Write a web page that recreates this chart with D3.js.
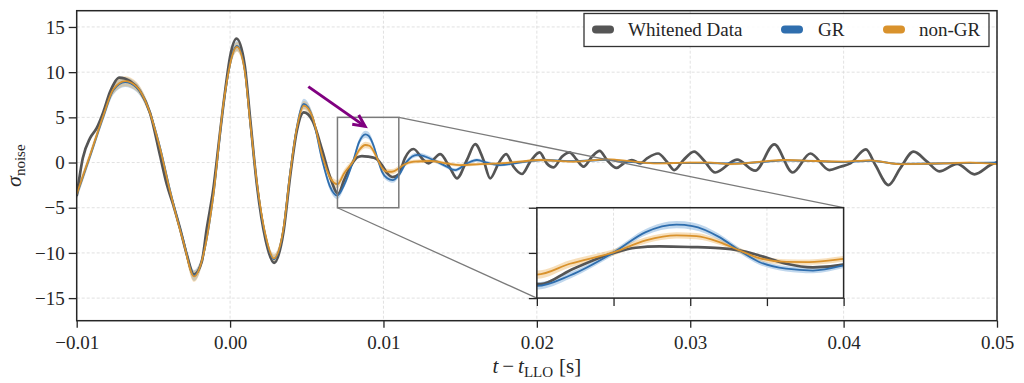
<!DOCTYPE html>
<html><head><meta charset="utf-8">
<script src="https://cdn.jsdelivr.net/npm/d3@7"></script>
<style>
html,body{margin:0;padding:0;background:#fff;}
svg{display:block;font-family:"Liberation Serif","Times New Roman",serif;}
</style></head><body>
<svg id="chart" width="1024" height="383"></svg>
<script>
// ---------------- data ----------------
const xTicks = [-0.01, 0, 0.01, 0.02, 0.03, 0.04, 0.05];
const xTickLabels = ["\u22120.01", "0.00", "0.01", "0.02", "0.03", "0.04", "0.05"];
const yTicks = [-15, -10, -5, 0, 5, 10, 15];
const yTickLabels = ["\u221215", "\u221210", "\u22125", "0", "5", "10", "15"];
const insetXTicks = [0.007, 0.008, 0.009, 0.010, 0.011];
const insetYTicks = [-5, 0, 5];
const seriesNames = ["Whitened Data", "GR", "non-GR"];
const zoomX = [0.007, 0.011];
const zoomY = [-5, 5];
const insetAtX = [0.02, 0.04];
const insetAtY = [-15, -5];
const arrowFrom = [0.0051, 8.4];
const arrowTo = [0.0088, 4.0];

// [t, value]
const whitened = [
[-0.01000,-3.7],[-0.00960,0.5],[-0.00913,2.7],[-0.00870,3.8],[-0.00826,5.6],[-0.00783,7.8],[-0.00722,9.4],[-0.00652,9.0],[-0.00587,7.9],[-0.00522,5.5],[-0.00457,0.8],[-0.00413,-2.4],[-0.00370,-4.7],[-0.00326,-7.3],[-0.00282,-10.2],[-0.00235,-12.4],[-0.00185,-11.0],[-0.00152,-7.3],[-0.00109,-2.9],[-0.00065,3.4],[-0.00030,8.2],[0.00000,11.7],[0.00042,13.7],[0.00095,10.8],[0.00130,5.0],[0.00175,-2.5],[0.00232,-8.6],[0.00287,-11.1],[0.00348,-7.7],[0.00391,-1.6],[0.00435,3.5],[0.00481,5.55],[0.00538,4.6],[0.00600,1.4],[0.00650,-1.5],[0.00705,-3.45],[0.00743,-1.94],[0.00801,0.02],[0.00829,0.57],[0.00860,0.72],[0.00901,0.65],[0.00938,0.53],[0.00964,0.28],[0.00990,-0.28],[0.01025,-1.2],[0.01060,-1.6],[0.01100,-1.3],[0.01140,0.5],[0.01196,1.5],[0.01261,0.28],[0.01294,-0.09],[0.01370,0.94],[0.01435,-0.64],[0.01479,-1.75],[0.01544,0.28],[0.01598,2.04],[0.01652,0.28],[0.01696,-1.75],[0.01750,-0.1],[0.01800,0.94],[0.01848,-0.46],[0.01903,-1.27],[0.01957,0.1],[0.02018,1.13],[0.02065,-0.1],[0.02109,-0.53],[0.02163,0.64],[0.02213,1.13],[0.02261,0.28],[0.02304,-0.45],[0.02359,0.64],[0.02409,1.3],[0.02457,0.28],[0.02520,-0.6],[0.02565,-0.1],[0.02620,0.28],[0.02674,-0.1],[0.02718,0.46],[0.02790,1.0],[0.02848,0.1],[0.02895,-0.83],[0.02956,0.28],[0.03025,1.2],[0.03087,0.28],[0.03163,-1.1],[0.03305,0.32],[0.03424,-0.9],[0.03548,2.0],[0.03668,-1.1],[0.03783,1.0],[0.03907,-0.83],[0.03978,-0.46],[0.04044,-0.1],[0.04145,1.46],[0.04207,-0.28],[0.04293,-2.49],[0.04369,-0.64],[0.04456,1.2],[0.04544,0.1],[0.04624,-0.97],[0.04740,-0.15],[0.04853,-1.3],[0.04957,-0.28],[0.05000,0.05]
];

// [t, median, band half-width]
const grModel = [
[-0.01000,-3.6,0.5],[-0.00913,0.7,0.45],[-0.00826,5.1,0.45],[-0.00761,8.0,0.5],[-0.00685,8.9,0.55],[-0.00609,8.3,0.5],[-0.00533,6.0,0.45],[-0.00457,1.7,0.4],[-0.00391,-3.1,0.4],[-0.00304,-8.7,0.5],[-0.00235,-12.5,0.6],[-0.00174,-10.2,0.5],[-0.00109,-3.7,0.4],[-0.00044,6.3,0.45],[0.00045,12.9,0.55],[0.00095,10.3,0.5],[0.00130,4.6,0.4],[0.00175,-2.3,0.4],[0.00232,-8.2,0.45],[0.00285,-10.7,0.5],[0.00348,-7.3,0.45],[0.00391,-1.2,0.4],[0.00435,3.9,0.45],[0.00481,6.5,0.55],[0.00538,5.0,0.45],[0.00600,0.3,0.35],[0.00650,-2.6,0.4],[0.00700,-3.65,0.4],[0.00743,-2.5,0.35],[0.00801,0.09,0.3],[0.00842,2.3,0.35],[0.00882,3.12,0.4],[0.00903,2.97,0.4],[0.00938,1.75,0.35],[0.00964,0.28,0.3],[0.00990,-1.0,0.3],[0.01025,-1.75,0.3],[0.01060,-1.95,0.3],[0.01100,-1.38,0.3],[0.01152,0.1,0.25],[0.01220,0.85,0.25],[0.01348,0.1,0.2],[0.01413,-0.46,0.2],[0.01467,-0.83,0.2],[0.01544,-0.1,0.2],[0.01609,0.28,0.18],[0.01674,-0.02,0.18],[0.01761,-0.28,0.15],[0.01848,-0.1,0.15],[0.01957,0.17,0.15],[0.02043,0.28,0.15],[0.02239,0.15,0.12],[0.02457,0.3,0.12],[0.02631,0.05,0.12],[0.02783,-0.05,0.12],[0.03000,-0.05,0.12],[0.03261,-0.1,0.12],[0.03500,0.1,0.12],[0.03609,0.25,0.12],[0.03826,0.15,0.12],[0.04000,0.05,0.12],[0.04174,0.2,0.12],[0.04370,-0.15,0.12],[0.04652,-0.1,0.12],[0.04826,-0.05,0.12],[0.05000,0.0,0.12]
];

const nonGRModel = [
[-0.01000,-3.5,0.55],[-0.00913,0.8,0.5],[-0.00826,5.2,0.5],[-0.00761,8.1,0.5],[-0.00685,9.0,0.55],[-0.00609,8.4,0.5],[-0.00533,6.0,0.45],[-0.00457,1.6,0.4],[-0.00391,-3.2,0.4],[-0.00304,-8.8,0.5],[-0.00235,-12.6,0.6],[-0.00174,-10.2,0.5],[-0.00109,-3.6,0.4],[-0.00044,6.4,0.45],[0.00045,12.8,0.55],[0.00095,10.2,0.5],[0.00130,4.6,0.4],[0.00175,-2.2,0.4],[0.00232,-8.1,0.45],[0.00285,-10.6,0.5],[0.00348,-7.3,0.45],[0.00391,-1.3,0.4],[0.00435,3.8,0.45],[0.00481,6.3,0.5],[0.00538,5.0,0.45],[0.00600,0.8,0.4],[0.00650,-1.6,0.45],[0.00700,-2.4,0.45],[0.00743,-1.2,0.4],[0.00801,0.09,0.35],[0.00842,1.38,0.35],[0.00882,1.94,0.35],[0.00908,1.86,0.35],[0.00938,1.2,0.3],[0.00964,0.28,0.3],[0.00990,-0.57,0.3],[0.01025,-1.0,0.3],[0.01055,-1.02,0.3],[0.01100,-0.65,0.3],[0.01130,-0.28,0.25],[0.01196,0.1,0.22],[0.01305,0.17,0.2],[0.01413,-0.1,0.2],[0.01500,-0.28,0.18],[0.01630,-0.17,0.15],[0.01761,-0.1,0.15],[0.01891,0.1,0.15],[0.02022,0.28,0.15],[0.02239,0.1,0.12],[0.02457,0.36,0.12],[0.02631,0.1,0.12],[0.02783,-0.1,0.12],[0.03000,0.0,0.12],[0.03130,0.0,0.12],[0.03261,-0.17,0.12],[0.03500,0.15,0.12],[0.03609,0.28,0.12],[0.03826,0.17,0.12],[0.04000,0.1,0.12],[0.04174,0.25,0.12],[0.04240,0.1,0.12],[0.04370,-0.17,0.12],[0.04652,-0.1,0.12],[0.04826,0.0,0.12],[0.05000,-0.17,0.12]
];

// ---------------- style ----------------
const colGray = "#555555", colBlue = "#2f6eae", colOrange = "#d9922c";
const bandBlue = "#4a8ccc", bandOrange = "#e8a23c";
const ink = "#262626", gridCol = "#d9d9d9";

// ---------------- layout ----------------
const svg = d3.select("#chart");
const plot = {left: 76.7, right: 997, top: 10.7, bottom: 320.7};
const x = d3.scaleLinear().domain([-0.01, 0.05]).range([plot.left, plot.right]);
const y = d3.scaleLinear().domain([-17.5, 16.8]).range([plot.bottom, plot.top]);

svg.append("defs").append("clipPath").attr("id", "clipMain")
  .append("rect").attr("x", plot.left).attr("y", plot.top)
  .attr("width", plot.right - plot.left).attr("height", plot.bottom - plot.top);

// grid
const grid = svg.append("g");
grid.selectAll("line.gx").data(xTicks).join("line")
  .attr("x1", d => x(d)).attr("x2", d => x(d)).attr("y1", plot.top).attr("y2", plot.bottom)
  .attr("stroke", gridCol).attr("stroke-width", 0.8).attr("stroke-dasharray", "3,2");
grid.selectAll("line.gy").data(yTicks).join("line")
  .attr("y1", d => y(d)).attr("y2", d => y(d)).attr("x1", plot.left).attr("x2", plot.right)
  .attr("stroke", gridCol).attr("stroke-width", 0.8).attr("stroke-dasharray", "3,2");

function drawSeries(g, sx, sy) {
  const line = d3.line().x(d => sx(d[0])).y(d => sy(d[1])).curve(d3.curveMonotoneX);
  const band = d3.area().x(d => sx(d[0])).y0(d => sy(d[1] - d[2])).y1(d => sy(d[1] + d[2])).curve(d3.curveMonotoneX);
  g.append("path").datum(grModel).attr("d", band).attr("fill", bandBlue).attr("fill-opacity", 0.35);
  g.append("path").datum(nonGRModel).attr("d", band).attr("fill", bandOrange).attr("fill-opacity", 0.35);
  g.append("path").datum(whitened).attr("d", line).attr("fill", "none").attr("stroke", colGray).attr("stroke-width", 2.7);
  g.append("path").datum(grModel).attr("d", line).attr("fill", "none").attr("stroke", colBlue).attr("stroke-width", 1.8);
  g.append("path").datum(nonGRModel).attr("d", line).attr("fill", "none").attr("stroke", colOrange).attr("stroke-width", 1.8);
}

const main = svg.append("g").attr("clip-path", "url(#clipMain)");
drawSeries(main, x, y);

// zoom rectangle & connectors
const zoomCol = "#7a7a7a";
svg.append("rect").attr("x", x(zoomX[0])).attr("y", y(zoomY[1]))
  .attr("width", x(zoomX[1]) - x(zoomX[0])).attr("height", y(zoomY[0]) - y(zoomY[1]))
  .attr("fill", "none").attr("stroke", zoomCol).attr("stroke-width", 1.5);
svg.append("line").attr("x1", x(zoomX[1])).attr("y1", y(zoomY[1])).attr("x2", x(insetAtX[1])).attr("y2", y(insetAtY[1]))
  .attr("stroke", zoomCol).attr("stroke-width", 1.3);
svg.append("line").attr("x1", x(zoomX[0])).attr("y1", y(zoomY[0])).attr("x2", x(insetAtX[0])).attr("y2", y(insetAtY[0]))
  .attr("stroke", zoomCol).attr("stroke-width", 1.3);

// inset
const ib = {left: x(insetAtX[0]), right: x(insetAtX[1]), top: y(insetAtY[1]), bottom: y(insetAtY[0])};
const ix = d3.scaleLinear().domain(zoomX).range([ib.left, ib.right]);
const iy = d3.scaleLinear().domain(zoomY).range([ib.bottom, ib.top]);
svg.select("defs").append("clipPath").attr("id", "clipInset")
  .append("rect").attr("x", ib.left).attr("y", ib.top).attr("width", ib.right - ib.left).attr("height", ib.bottom - ib.top);
svg.append("rect").attr("x", ib.left).attr("y", ib.top).attr("width", ib.right - ib.left).attr("height", ib.bottom - ib.top).attr("fill", "#fff");
const inset = svg.append("g").attr("clip-path", "url(#clipInset)");
inset.selectAll("line.ix").data(insetXTicks).join("line")
  .attr("x1", d => ix(d)).attr("x2", d => ix(d)).attr("y1", ib.top).attr("y2", ib.bottom)
  .attr("stroke", gridCol).attr("stroke-width", 0.8).attr("stroke-dasharray", "3,2");
inset.selectAll("line.iy").data(insetYTicks).join("line")
  .attr("y1", d => iy(d)).attr("y2", d => iy(d)).attr("x1", ib.left).attr("x2", ib.right)
  .attr("stroke", gridCol).attr("stroke-width", 0.8).attr("stroke-dasharray", "3,2");
drawSeries(inset, ix, iy);
svg.append("g").attr("transform", `translate(0,${ib.bottom})`)
  .call(d3.axisBottom(ix).tickValues(insetXTicks).tickFormat("").tickSize(8).tickSizeOuter(0))
  .call(g => g.select(".domain").remove())
  .call(g => g.selectAll("line").attr("stroke", ink).attr("stroke-width", 1.3));
svg.append("g").attr("transform", `translate(${ib.left},0)`)
  .call(d3.axisLeft(iy).tickValues(insetYTicks).tickFormat("").tickSize(8).tickSizeOuter(0))
  .call(g => g.select(".domain").remove())
  .call(g => g.selectAll("line").attr("stroke", ink).attr("stroke-width", 1.3));
svg.append("rect").attr("x", ib.left).attr("y", ib.top).attr("width", ib.right - ib.left).attr("height", ib.bottom - ib.top)
  .attr("fill", "none").attr("stroke", ink).attr("stroke-width", 1.5);

// arrow
const p1 = [x(arrowFrom[0]), y(arrowFrom[1])], p2 = [x(arrowTo[0]), y(arrowTo[1])];
const ang = Math.atan2(p2[1] - p1[1], p2[0] - p1[0]);
const hl = 13, ha = 0.45;
svg.append("line").attr("x1", p1[0]).attr("y1", p1[1]).attr("x2", p2[0]).attr("y2", p2[1])
  .attr("stroke", "#800080").attr("stroke-width", 3);
svg.append("path")
  .attr("d", `M${p2[0] - hl * Math.cos(ang - ha)},${p2[1] - hl * Math.sin(ang - ha)} L${p2[0]},${p2[1]} L${p2[0] - hl * Math.cos(ang + ha)},${p2[1] - hl * Math.sin(ang + ha)}`)
  .attr("fill", "none").attr("stroke", "#800080").attr("stroke-width", 3).attr("stroke-linejoin", "miter");

// axes
const xAxis = svg.append("g").attr("transform", `translate(0,${plot.bottom})`)
  .call(d3.axisBottom(x).tickValues(xTicks).tickFormat((d, i) => xTickLabels[i]).tickSize(7).tickPadding(8).tickSizeOuter(0));
const yAxis = svg.append("g").attr("transform", `translate(${plot.left},0)`)
  .call(d3.axisLeft(y).tickValues(yTicks).tickFormat((d, i) => yTickLabels[i]).tickSize(8).tickPadding(4).tickSizeOuter(0));
[xAxis, yAxis].forEach(a => {
  a.select(".domain").remove();
  a.selectAll("line").attr("stroke", ink).attr("stroke-width", 1.3);
  a.selectAll("text").attr("fill", ink).attr("font-size", 19).attr("font-family", "Liberation Serif, serif");
});

// frame
svg.append("rect").attr("x", plot.left).attr("y", plot.top)
  .attr("width", plot.right - plot.left).attr("height", plot.bottom - plot.top)
  .attr("fill", "none").attr("stroke", ink).attr("stroke-width", 1.5);

// axis labels
const xl = svg.append("text").attr("x", (plot.left + plot.right) / 2).attr("y", 373)
  .attr("text-anchor", "middle").attr("font-size", 21).attr("fill", ink);
xl.append("tspan").attr("font-style", "italic").text("t");
xl.append("tspan").attr("dx", 4).text("\u2212");
xl.append("tspan").attr("dx", 4).attr("font-style", "italic").text("t");
xl.append("tspan").attr("font-size", 15).attr("dy", 4).text("LLO");
xl.append("tspan").attr("dy", -4).attr("dx", 6).text("[s]");

const yl = svg.append("text").attr("transform", `translate(21,${(plot.top + plot.bottom) / 2}) rotate(-90)`)
  .attr("text-anchor", "middle").attr("font-size", 22).attr("fill", ink);
yl.append("tspan").attr("font-style", "italic").text("\u03c3");
yl.append("tspan").attr("font-size", 15).attr("dy", 4).text("noise");

// legend
const lg = svg.append("g");
lg.append("rect").attr("x", 584).attr("y", 13.5).attr("width", 405).attr("height", 33)
  .attr("fill", "#fff").attr("fill-opacity", 0.85).attr("stroke", "#333").attr("stroke-width", 1.3);
const legendCols = [colGray, colBlue, colOrange];
const legendMarkX = [596, 785, 887];
const legendTextX = [628, 818, 919];
seriesNames.forEach((name, i) => {
  lg.append("line").attr("x1", legendMarkX[i]).attr("x2", legendMarkX[i] + 14).attr("y1", 29.5).attr("y2", 29.5)
    .attr("stroke", legendCols[i]).attr("stroke-width", 8).attr("stroke-linecap", "round");
  lg.append("text").attr("x", legendTextX[i]).attr("y", 36).attr("font-size", 19).attr("fill", ink).text(name);
});
</script>
</body></html>
